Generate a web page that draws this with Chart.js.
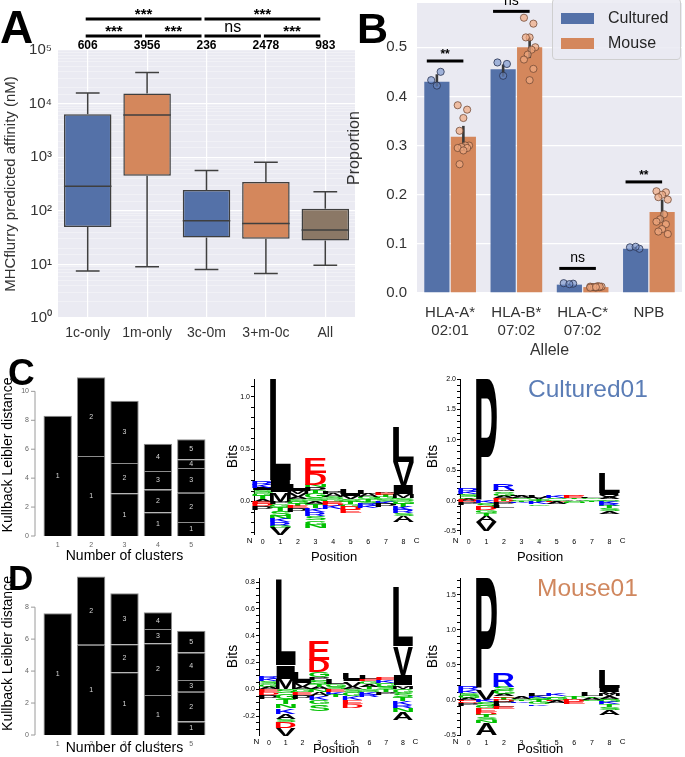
<!DOCTYPE html>
<html>
<head>
<meta charset="utf-8">
<script src="https://cdn.jsdelivr.net/npm/chart.js@4.4.0/dist/chart.umd.min.js"></script>
<style>
  body { margin: 0; background: #fff; }
  #fig { position: relative; width: 685px; height: 757px; overflow: hidden; font-family: "Liberation Sans", Arial, sans-serif; }
  #fig canvas { position: absolute; }
  .tag { position: absolute; font-weight: bold; color: #000; line-height: 1; }
  .name { position: absolute; font-size: 24.5px; line-height: 1; }
  #legB { position: absolute; left: 552px; top: -2px; width: 127px; height: 60px; border: 1px solid #cfcfcf; border-radius: 4px; background: rgba(234,234,242,0.85); }
  #legB .sw { position: absolute; left: 8px; width: 33px; height: 11px; }
  #legB .tx { position: absolute; left: 55px; font-size: 16px; line-height: 1; color: #262626; }
</style>
</head>
<body>
<div id="fig">
  <canvas id="cA" width="360" height="345" style="left:0;top:0"></canvas>
  <canvas id="cB" width="340" height="360" style="left:345px;top:0"></canvas>
  <canvas id="cC" width="215" height="210" style="left:0;top:355px"></canvas>
  <canvas id="cD" width="215" height="197" style="left:0;top:560px"></canvas>
  <canvas id="cC1" width="200" height="195" style="left:225px;top:370px"></canvas>
  <canvas id="cC2" width="260" height="195" style="left:425px;top:370px"></canvas>
  <canvas id="cD1" width="200" height="192" style="left:225px;top:565px"></canvas>
  <canvas id="cD2" width="260" height="192" style="left:425px;top:565px"></canvas>

  <div class="tag" style="left:0;top:4px;font-size:46px">A</div>
  <div class="tag" style="left:357px;top:7px;font-size:43px">B</div>
  <div class="tag" style="left:8px;top:354px;font-size:37px">C</div>
  <div class="tag" style="left:8px;top:560px;font-size:35px">D</div>

  <div class="name" style="left:528px;top:377px;color:#5b7db6">Cultured01</div>
  <div class="name" style="left:537px;top:576px;color:#d0875e">Mouse01</div>

  <div id="legB">
    <div class="sw" style="top:14px;background:#5471a8"></div>
    <div class="tx" style="top:11px">Cultured</div>
    <div class="sw" style="top:39px;background:#d4875c"></div>
    <div class="tx" style="top:36px">Mouse</div>
  </div>
</div>

<script>
// ---- panel A: predicted affinity per group ----
var groups = ['1c-only', '1m-only', '3c-0m', '3+m-0c', 'All'];
var boxMin = [7.5, 9, 8, 6.8, 9.6];
var boxQ1 = [50, 453, 31.6, 30, 28];
var boxMed = [286, 6100, 65, 58, 44];
var boxQ3 = [6300, 15400, 245, 345, 109];
var boxMax = [15800, 38000, 562, 805, 227];
var groupCounts = [606, 3956, 236, 2478, 983];
var sigNear = [[0, 1, '***'], [1, 2, '***'], [2, 3, 'ns'], [3, 4, '***']];
var sigFar = [[0, 2, '***'], [2, 4, '***']];

// ---- panel B: allele proportions ----
var alleles = [['HLA-A*', '02:01'], ['HLA-B*', '07:02'], ['HLA-C*', '07:02'], 'NPB'];
var culturedMean = [0.43, 0.455, 0.017, 0.09];
var mouseMean = [0.318, 0.5, 0.012, 0.165];
var culturedLo = [0.42, 0.44, 0.016, 0.089];
var culturedHi = [0.445, 0.465, 0.019, 0.094];
var mouseLo = [0.296, 0.478, 0.011, 0.145];
var mouseHi = [0.34, 0.52, 0.014, 0.19];
var culturedPts = [[0.433, 0.45, 0.422], [0.469, 0.466, 0.442], [0.02, 0.019, 0.018], [0.093, 0.09, 0.094]];
var mousePts = [
  [0.382, 0.373, 0.356, 0.33, 0.30, 0.30, 0.297, 0.295, 0.295, 0.29, 0.262],
  [0.56, 0.548, 0.52, 0.52, 0.50, 0.495, 0.485, 0.475, 0.456, 0.433],
  [0.013, 0.012, 0.011, 0.012, 0.013, 0.014, 0.012, 0.011, 0.013, 0.012],
  [0.207, 0.205, 0.2, 0.195, 0.19, 0.16, 0.15, 0.145, 0.14, 0.13, 0.125, 0.12]
];
var sigB = [[0, 0.472, '**'], [1, 0.573, 'ns'], [2, 0.05, 'ns'], [3, 0.226, '**']];

// ---- panels C/D: KL distance per number of clusters ----
var clusterK = [1, 2, 3, 4, 5];
var klCultured = [[8.31], [5.53, 5.44], [2.96, 2.09, 4.3], [1.64, 1.58, 1.27, 1.88], [0.97, 2.02, 1.71, 0.6, 1.39]];
var klMouse = [[7.62], [5.64, 4.28], [3.92, 1.76, 3.19], [2.5, 3.24, 0.9, 1.04], [0.84, 1.87, 0.73, 1.72, 1.37]];
var klTicksC = [0, 2, 4, 6, 8, 10];
var klTicksD = [0, 2, 4, 6, 8];

// ---- sequence logos: [letter, bits], stacked from 0 outwards ----
var logoC1Up = [
  [['A', 0.02], ['T', 0.03], ['G', 0.03], ['S', 0.03], ['I', 0.02], ['K', 0.03], ['R', 0.04]],
  [['M', 0.09], ['I', 0.12], ['L', 0.96]],
  [['S', 0.02], ['A', 0.02], ['V', 0.03], ['M', 0.03], ['I', 0.02], ['L', 0.05]],
  [['S', 0.03], ['G', 0.05], ['T', 0.02], ['P', 0.04], ['N', 0.02], ['D', 0.11], ['E', 0.15]],
  [['G', 0.02], ['S', 0.02], ['A', 0.03], ['P', 0.02]],
  [['S', 0.02], ['V', 0.03], ['I', 0.02], ['L', 0.05]],
  [['T', 0.02], ['G', 0.02], ['A', 0.03], ['L', 0.04]],
  [['S', 0.02], ['G', 0.02], ['T', 0.02], ['E', 0.02], ['A', 0.01]],
  [['S', 0.03], ['M', 0.04], ['I', 0.08], ['V', 0.23], ['L', 0.33]]
];
var logoC1Down = [
  [['E', 0.02], ['D', 0.02], ['P', 0.04]],
  [['P', 0.02], ['G', 0.03], ['T', 0.04], ['S', 0.05], ['N', 0.03], ['K', 0.03], ['R', 0.03], ['G', 0.02], ['V', 0.07]],
  [['G', 0.02], ['T', 0.02], ['E', 0.02], ['P', 0.04]],
  [['A', 0.02], ['T', 0.04], ['K', 0.04], ['R', 0.04], ['S', 0.04], ['G', 0.04], ['N', 0.03]],
  [['E', 0.02], ['D', 0.02], ['K', 0.03]],
  [['T', 0.02], ['G', 0.03], ['D', 0.03], ['E', 0.03]],
  [['S', 0.02], ['R', 0.02], ['K', 0.02]],
  [['K', 0.02], ['P', 0.03]],
  [['G', 0.02], ['T', 0.03], ['K', 0.03], ['R', 0.03], ['S', 0.03], ['A', 0.06]]
];
var logoC2Up = [
  [['A', 0.03], ['G', 0.03], ['S', 0.04], ['K', 0.04], ['R', 0.06]],
  [['P', 2.0]],
  [['T', 0.03], ['E', 0.02], ['A', 0.03], ['G', 0.04], ['S', 0.03], ['M', 0.02], ['R', 0.11]],
  [['G', 0.02], ['S', 0.02], ['A', 0.03], ['L', 0.02]],
  [['S', 0.02], ['V', 0.03], ['L', 0.04]],
  [['G', 0.02], ['S', 0.02], ['K', 0.03]],
  [['A', 0.02], ['T', 0.02], ['E', 0.03], ['D', 0.02]],
  [['S', 0.02], ['G', 0.02], ['L', 0.02]],
  [['S', 0.02], ['A', 0.03], ['V', 0.04], ['I', 0.03], ['L', 0.33]]
];
var logoC2Down = [
  [['D', 0.03], ['P', 0.05]],
  [['K', 0.04], ['S', 0.06], ['D', 0.06], ['G', 0.05], ['T', 0.04], ['A', 0.1], ['V', 0.15]],
  [['D', 0.03], ['P', 0.04], ['L', 0.05]],
  [['T', 0.02], ['K', 0.02]],
  [['T', 0.03], ['K', 0.03], ['G', 0.03]],
  [['E', 0.02], ['A', 0.03]],
  [['S', 0.02], ['N', 0.02]],
  [['T', 0.02]],
  [['G', 0.03], ['K', 0.03], ['R', 0.03], ['T', 0.04], ['S', 0.04], ['A', 0.05]]
];
var logoD1Up = [
  [['A', 0.02], ['G', 0.02], ['S', 0.02], ['K', 0.02], ['R', 0.02]],
  [['M', 0.08], ['I', 0.10], ['L', 0.64]],
  [['A', 0.02], ['V', 0.03], ['I', 0.02], ['L', 0.06]],
  [['A', 0.02], ['T', 0.02], ['S', 0.03], ['P', 0.02], ['G', 0.04], ['D', 0.09], ['E', 0.14]],
  [['S', 0.02], ['G', 0.02], ['L', 0.04]],
  [['A', 0.02], ['V', 0.04], ['I', 0.02], ['L', 0.05]],
  [['T', 0.02], ['A', 0.02], ['G', 0.02], ['E', 0.02], ['L', 0.03]],
  [['S', 0.02], ['G', 0.03], ['K', 0.02], ['E', 0.02]],
  [['M', 0.02], ['A', 0.01], ['I', 0.08], ['V', 0.21], ['L', 0.44]]
];
var logoD1Down = [
  [['E', 0.02], ['D', 0.02], ['P', 0.03]],
  [['S', 0.03], ['G', 0.04], ['T', 0.04], ['N', 0.03], ['K', 0.04], ['A', 0.04], ['S', 0.02], ['D', 0.05], ['V', 0.06]],
  [['G', 0.02], ['E', 0.02], ['P', 0.03]],
  [['N', 0.02], ['A', 0.03], ['K', 0.03], ['G', 0.03], ['S', 0.05]],
  [['E', 0.02], ['K', 0.02], ['T', 0.02]],
  [['S', 0.02], ['G', 0.03], ['K', 0.03], ['E', 0.03], ['D', 0.03]],
  [['S', 0.02], ['K', 0.02], ['R', 0.02]],
  [['T', 0.02], ['P', 0.02]],
  [['G', 0.03], ['S', 0.03], ['T', 0.03], ['K', 0.03], ['R', 0.02], ['N', 0.03], ['A', 0.06]]
];
var logoD2Up = [
  [['A', 0.03], ['G', 0.03], ['S', 0.04], ['K', 0.04], ['R', 0.06]],
  [['V', 0.15], ['P', 1.59]],
  [['T', 0.03], ['E', 0.02], ['A', 0.04], ['G', 0.05], ['S', 0.05], ['R', 0.19]],
  [['G', 0.02], ['A', 0.03]],
  [['S', 0.03], ['K', 0.03], ['L', 0.03]],
  [['G', 0.03], ['S', 0.02], ['K', 0.03]],
  [['A', 0.02], ['T', 0.03]],
  [['A', 0.03], ['T', 0.02], ['L', 0.05]],
  [['S', 0.02], ['A', 0.03], ['M', 0.03], ['V', 0.04], ['I', 0.05], ['L', 0.26]]
];
var logoD2Down = [
  [['E', 0.02], ['D', 0.02], ['P', 0.04]],
  [['K', 0.03], ['S', 0.05], ['G', 0.04], ['E', 0.05], ['D', 0.04], ['T', 0.04], ['S', 0.04], ['N', 0.04], ['A', 0.17]],
  [['D', 0.03], ['P', 0.03], ['L', 0.04], ['E', 0.03]],
  [['T', 0.02], ['K', 0.02]],
  [['T', 0.03], ['G', 0.03], ['K', 0.02]],
  [['E', 0.02], ['A', 0.03]],
  [['D', 0.03], ['E', 0.03]],
  [['S', 0.02]],
  [['G', 0.03], ['K', 0.03], ['T', 0.04], ['S', 0.04], ['A', 0.08]]
];

var blue = '#5471a8', orange = '#d4875c', brown = '#8b7866';
var groupColors = [blue, orange, blue, orange, brown];
var supDigits = ['\u2070', '\u00b9', '\u00b2', '\u00b3', '\u2074', '\u2075'];
var fontFam = '"Liberation Sans", Arial, sans-serif';

Chart.defaults.font.family = fontFam;
Chart.defaults.color = '#333';
Chart.defaults.animation = false;
Chart.defaults.plugins.legend.display = false;
Chart.defaults.plugins.tooltip.enabled = false;

// grey plot background for the seaborn-style panels
Chart.register({
  id: 'panelBg',
  beforeDraw: function(chart, args, opts) {
    if (!opts.color) return;
    var a = chart.chartArea, ctx = chart.ctx;
    ctx.save();
    ctx.fillStyle = opts.color;
    ctx.fillRect(a.left, a.top, a.right - a.left, a.bottom - a.top);
    ctx.restore();
  }
});

function isPow10(v) {
  var e = Math.log10(v);
  return Math.abs(e - Math.round(e)) < 1e-9;
}

// ---- A ----
var boxPlugin = {
  id: 'boxParts',
  afterDatasetsDraw: function(chart) {
    var ctx = chart.ctx, y = chart.scales.y;
    var bars = chart.getDatasetMeta(0).data;
    ctx.save();
    ctx.strokeStyle = '#3f3f3f';
    ctx.lineWidth = 1.5;
    bars.forEach(function(bar, i) {
      var hw = bar.width / 2;
      ctx.beginPath();
      ctx.moveTo(bar.x - hw, y.getPixelForValue(boxMed[i]));
      ctx.lineTo(bar.x + hw, y.getPixelForValue(boxMed[i]));
      ctx.moveTo(bar.x, y.getPixelForValue(boxQ3[i]));
      ctx.lineTo(bar.x, y.getPixelForValue(boxMax[i]));
      ctx.moveTo(bar.x - hw / 2, y.getPixelForValue(boxMax[i]));
      ctx.lineTo(bar.x + hw / 2, y.getPixelForValue(boxMax[i]));
      ctx.moveTo(bar.x, y.getPixelForValue(boxQ1[i]));
      ctx.lineTo(bar.x, y.getPixelForValue(boxMin[i]));
      ctx.moveTo(bar.x - hw / 2, y.getPixelForValue(boxMin[i]));
      ctx.lineTo(bar.x + hw / 2, y.getPixelForValue(boxMin[i]));
      ctx.stroke();
    });
    ctx.restore();
  },
  afterDraw: function(chart) {
    var ctx = chart.ctx, top = chart.chartArea.top;
    var bars = chart.getDatasetMeta(0).data;
    ctx.save();
    ctx.fillStyle = '#000';
    ctx.textAlign = 'center';
    ctx.textBaseline = 'middle';
    ctx.font = 'bold 12px ' + fontFam;
    bars.forEach(function(bar, i) { ctx.fillText(String(groupCounts[i]), bar.x, top - 4); });
    function bracket(p, yy) {
      var x0 = bars[p[0]].x - 2, x1 = bars[p[1]].x - 5;
      ctx.fillRect(x0, yy - 1.5, x1 - x0, 3);
      if (p[2] === 'ns') { ctx.font = '16px ' + fontFam; ctx.fillText('ns', (x0 + x1) / 2, yy - 8); }
      else { ctx.font = 'bold 15px ' + fontFam; ctx.fillText(p[2], (x0 + x1) / 2, yy - 4); }
    }
    sigNear.forEach(function(p) { bracket(p, top - 14); });
    sigFar.forEach(function(p) { bracket(p, top - 31); });
    ctx.restore();
  }
};

new Chart(document.getElementById('cA'), {
  type: 'bar',
  data: {
    labels: groups,
    datasets: [{
      data: boxQ1.map(function(q, i) { return [q, boxQ3[i]]; }),
      backgroundColor: groupColors,
      borderColor: '#3f3f3f',
      borderWidth: 1.5,
      borderSkipped: false,
      barPercentage: 0.8,
      categoryPercentage: 1
    }]
  },
  options: {
    responsive: false,
    layout: { padding: { top: 50, right: 5 } },
    plugins: { panelBg: { color: '#eaeaf2' } },
    scales: {
      x: {
        grid: { color: '#ffffff', lineWidth: 1.2, offset: false, drawTicks: false },
        border: { display: false },
        ticks: { font: { size: 14 }, color: '#333', padding: 7 },
        afterFit: function(s) { s.height = 27; }
      },
      y: {
        type: 'logarithmic', min: 1, max: 100000,
        border: { display: false },
        grid: {
          drawTicks: false,
          color: function(c) { return isPow10(c.tick.value) ? '#ffffff' : 'rgba(255,255,255,0.55)'; },
          lineWidth: function(c) { return isPow10(c.tick.value) ? 1.3 : 0.6; }
        },
        ticks: {
          autoSkip: false, font: { size: 15 }, color: '#333', padding: 6,
          callback: function(v) { return isPow10(v) ? '10' + supDigits[Math.round(Math.log10(v))] : ''; }
        },
        title: { display: true, text: 'MHCflurry predicted affinity (nM)', font: { size: 15 }, color: '#333', padding: 2 },
        afterFit: function(s) { s.width = 58; }
      }
    }
  },
  plugins: [boxPlugin]
});

// ---- B ----
// error bars, individual replicate points and significance bars, placed on the bars' own x and the y scale
var barExtras = {
  id: 'barExtras',
  afterDatasetsDraw: function(chart) {
    var ctx = chart.ctx, y = chart.scales.y;
    var series = [
      [0, culturedLo, culturedHi, culturedPts, 'rgba(110,140,200,0.6)', 'rgba(40,50,80,0.8)'],
      [1, mouseLo, mouseHi, mousePts, 'rgba(240,170,130,0.7)', 'rgba(110,70,50,0.75)']
    ];
    ctx.save();
    ctx.strokeStyle = '#3a3a3a';
    ctx.lineWidth = 2.6;
    series.forEach(function(s) {
      chart.getDatasetMeta(s[0]).data.forEach(function(bar, i) {
        ctx.beginPath();
        ctx.moveTo(bar.x, y.getPixelForValue(s[1][i]));
        ctx.lineTo(bar.x, y.getPixelForValue(s[2][i]));
        ctx.stroke();
      });
    });
    ctx.lineWidth = 1;
    series.forEach(function(s) {
      ctx.fillStyle = s[4];
      ctx.strokeStyle = s[5];
      chart.getDatasetMeta(s[0]).data.forEach(function(bar, i) {
        s[3][i].forEach(function(v, k) {
          var px = bar.x + (((k * 5) % 7) - 3) * bar.width * 0.075;
          ctx.beginPath();
          ctx.arc(px, y.getPixelForValue(v), 3.6, 0, Math.PI * 2);
          ctx.fill();
          ctx.stroke();
        });
      });
    });
    ctx.restore();
  },
  afterDraw: function(chart) {
    var ctx = chart.ctx, y = chart.scales.y;
    var cb = chart.getDatasetMeta(0).data, mb = chart.getDatasetMeta(1).data;
    ctx.save();
    ctx.fillStyle = '#000';
    ctx.textAlign = 'center';
    ctx.textBaseline = 'middle';
    sigB.forEach(function(s) {
      var x0 = cb[s[0]].x - 0.4 * cb[s[0]].width, x1 = mb[s[0]].x;
      var yy = y.getPixelForValue(s[1]);
      ctx.fillRect(x0, yy - 1.5, x1 - x0, 3);
      if (s[2] === 'ns') { ctx.font = '14px ' + fontFam; ctx.fillText('ns', (x0 + x1) / 2, yy - 10); }
      else { ctx.font = 'bold 12px ' + fontFam; ctx.fillText(s[2], (x0 + x1) / 2, yy - 6); }
    });
    ctx.restore();
  }
};

new Chart(document.getElementById('cB'), {
  type: 'bar',
  data: {
    labels: alleles,
    datasets: [
      { label: 'Cultured', data: culturedMean, backgroundColor: blue, barPercentage: 0.95, categoryPercentage: 0.8 },
      { label: 'Mouse', data: mouseMean, backgroundColor: orange, barPercentage: 0.95, categoryPercentage: 0.8 }
    ]
  },
  options: {
    responsive: false,
    layout: { padding: { top: 3, right: 3 } },
    plugins: { panelBg: { color: '#eaeaf2' } },
    scales: {
      x: {
        grid: { display: false }, border: { display: false },
        ticks: { font: { size: 15 }, color: '#333', padding: 3 },
        title: { display: true, text: 'Allele', font: { size: 16 }, color: '#333', padding: 0 },
        afterFit: function(s) { s.height = 67; }
      },
      y: {
        min: 0, max: 0.59,
        border: { display: false },
        grid: { color: '#ffffff', lineWidth: 1.3, drawTicks: false },
        ticks: { stepSize: 0.1, includeBounds: false, font: { size: 15 }, color: '#333', padding: 10,
                 callback: function(v) { return v.toFixed(1); } },
        title: { display: true, text: 'Proportion', font: { size: 16 }, color: '#333', padding: 0 },
        afterFit: function(s) { s.width = 72; s.paddingTop = 0; s.paddingBottom = 0; }
      }
    }
  },
  plugins: [barExtras]
});

// ---- C / D ----
var segLabels = {
  id: 'segLabels',
  afterDatasetsDraw: function(chart, args, opts) {
    var ctx = chart.ctx, y = chart.scales.y;
    ctx.save();
    // R-style axis a little left of the first bar
    var ax = chart.chartArea.left - 6, t = opts.ticks;
    ctx.strokeStyle = '#9a9a9a';
    ctx.lineWidth = 1;
    ctx.beginPath();
    ctx.moveTo(ax, y.getPixelForValue(t[0]));
    ctx.lineTo(ax, y.getPixelForValue(t[t.length - 1]));
    t.forEach(function(v) {
      ctx.moveTo(ax - 4, y.getPixelForValue(v));
      ctx.lineTo(ax, y.getPixelForValue(v));
    });
    ctx.stroke();
    ctx.fillStyle = '#666';
    ctx.font = '7px ' + fontFam;
    ctx.textAlign = 'right';
    ctx.textBaseline = 'middle';
    t.forEach(function(v) { ctx.fillText(String(v), ax - 6, y.getPixelForValue(v)); });
    // cluster numbers inside the segments
    ctx.fillStyle = '#d8d8d8';
    ctx.textAlign = 'center';
    chart.data.datasets.forEach(function(ds, j) {
      chart.getDatasetMeta(j).data.forEach(function(el, i) {
        if (ds.data[i] === null) return;
        ctx.fillText(String(j + 1), el.x, (el.y + el.base) / 2);
      });
    });
    ctx.restore();
  }
};

function klChart(id, segs, yMax, ticks, padTop, xHeight) {
  var datasets = [];
  for (var j = 0; j < 5; j++) {
    datasets.push({
      data: segs.map(function(s) { return s[j] === undefined ? null : s[j]; }),
      backgroundColor: '#000', borderColor: '#8c8c8c', borderWidth: 1,
      borderSkipped: 'start', barPercentage: 0.85, categoryPercentage: 1
    });
  }
  new Chart(document.getElementById(id), {
    type: 'bar',
    data: { labels: clusterK.map(String), datasets: datasets },
    options: {
      responsive: false,
      layout: { padding: { top: padTop, right: 7 } },
      plugins: { segLabels: { ticks: ticks } },
      scales: {
        x: {
          stacked: true,
          grid: { display: false, drawTicks: false }, border: { display: false },
          ticks: { font: { size: 7 }, color: '#666', padding: 5 },
          title: { display: true, text: 'Number of clusters', font: { size: 14 }, color: '#000', padding: 0 },
          afterFit: function(s) { s.height = xHeight; }
        },
        y: {
          min: 0, max: yMax, stacked: true,
          border: { display: false },
          grid: { display: false },
          ticks: { display: false },
          title: { display: true, text: 'Kullback Leibler distance', font: { size: 14 }, color: '#000', padding: 0 },
          afterFit: function(s) { s.width = 41; }
        }
      }
    },
    plugins: [segLabels]
  });
}

klChart('cC', klCultured, 11.2, klTicksC, 19, 29);
klChart('cD', klMouse, 10.2, klTicksD, 12, 22);

// ---- logos ----
function aaColor(ch) {
  if ('DE'.indexOf(ch) >= 0) return '#ff0000';
  if ('KRH'.indexOf(ch) >= 0) return '#0000ff';
  if ('STGNQYC'.indexOf(ch) >= 0) return '#00c000';
  return '#000000';
}
var glyphs = {};
function drawLetter(ctx, ch, x0, x1, yTop, yBot) {
  var h = yBot - yTop, w = x1 - x0;
  if (h < 0.2) return;
  ctx.font = 'bold 100px ' + fontFam;
  if (!glyphs[ch]) glyphs[ch] = ctx.measureText(ch);
  var m = glyphs[ch];
  var gw = m.actualBoundingBoxLeft + m.actualBoundingBoxRight;
  var gh = m.actualBoundingBoxAscent + m.actualBoundingBoxDescent;
  ctx.save();
  ctx.translate(x0, yTop);
  ctx.scale(w / gw, h / gh);
  ctx.fillStyle = aaColor(ch);
  ctx.textAlign = 'left';
  ctx.textBaseline = 'alphabetic';
  ctx.fillText(ch, m.actualBoundingBoxLeft, m.actualBoundingBoxAscent);
  ctx.restore();
}

var logoPlugin = {
  id: 'logo',
  afterDatasetsDraw: function(chart, args, opts) {
    var ctx = chart.ctx, xs = chart.scales.x, ys = chart.scales.y;
    opts.up.forEach(function(stack, p) {
      var half = (xs.getPixelForValue(p + 0.5) - xs.getPixelForValue(p - 0.5)) * 0.6;
      var cx = xs.getPixelForValue(p), acc = 0;
      stack.forEach(function(l) {
        drawLetter(ctx, l[0], cx - half, cx + half, ys.getPixelForValue(acc + l[1]), ys.getPixelForValue(acc));
        acc += l[1];
      });
      acc = 0;
      opts.down[p].forEach(function(l) {
        drawLetter(ctx, l[0], cx - half, cx + half, ys.getPixelForValue(acc), ys.getPixelForValue(acc - l[1]));
        acc -= l[1];
      });
    });
    // N / C terminus labels beside the position ticks
    var yl = xs.top + 3;
    ctx.save();
    ctx.fillStyle = '#000';
    ctx.font = '8px ' + fontFam;
    ctx.textAlign = 'center';
    ctx.textBaseline = 'top';
    ctx.fillText('N', xs.getPixelForValue(-0.75), yl);
    ctx.fillText('C', xs.getPixelForValue(opts.up.length - 0.25), yl);
    ctx.restore();
  }
};

function logoChart(id, up, down, yMin, yMax, step, labelStep, xMin, pad, yWidth, xHeight) {
  new Chart(document.getElementById(id), {
    type: 'scatter',
    data: { datasets: [{ data: [] }] },
    options: {
      responsive: false,
      layout: { padding: pad },
      plugins: { logo: { up: up, down: down } },
      scales: {
        x: {
          type: 'linear', min: xMin, max: 8.6, offset: false,
          grid: { display: false, drawTicks: false }, border: { display: false },
          afterBuildTicks: function(s) { s.ticks = up.map(function(_, i) { return { value: i }; }); },
          ticks: { font: { size: 7 }, color: '#000', padding: 4 },
          title: { display: true, text: 'Position', font: { size: 13 }, color: '#000', padding: 0 },
          afterFit: function(s) { s.height = xHeight; }
        },
        y: {
          type: 'linear', min: yMin, max: yMax,
          border: { color: '#000' },
          grid: { drawOnChartArea: false, tickLength: 3, color: '#000' },
          afterBuildTicks: function(s) {
            var t = [];
            for (var n = Math.ceil(yMin / step - 1e-6); n * step <= yMax + 1e-6; n++) t.push({ value: +(n * step).toFixed(3) });
            s.ticks = t;
          },
          ticks: {
            autoSkip: false, font: { size: 7 }, color: '#000', padding: 1,
            callback: function(v) {
              var r = v / labelStep;
              return Math.abs(r - Math.round(r)) < 1e-6 ? v.toFixed(1) : '';
            }
          },
          title: { display: true, text: 'Bits', font: { size: 14 }, color: '#000', padding: 0 },
          afterFit: function(s) { s.width = yWidth; }
        }
      }
    },
    plugins: [logoPlugin]
  });
}

logoChart('cC1', logoC1Up, logoC1Down, -0.31, 1.17, 0.1, 0.5, -0.5, { top: 9, right: 11 }, 29, 31);
logoChart('cC2', logoC2Up, logoC2Down, -0.55, 2.0, 0.1, 0.5, -0.5, { top: 9, right: 65 }, 35, 31);
logoChart('cD1', logoD1Up, logoD1Down, -0.34, 0.83, 0.05, 0.2, -0.6, { top: 13, right: 12 }, 34, 22);
logoChart('cD2', logoD2Up, logoD2Down, -0.5, 1.74, 0.1, 0.5, -0.5, { top: 13, right: 65 }, 35, 22);
</script>
</body>
</html>
